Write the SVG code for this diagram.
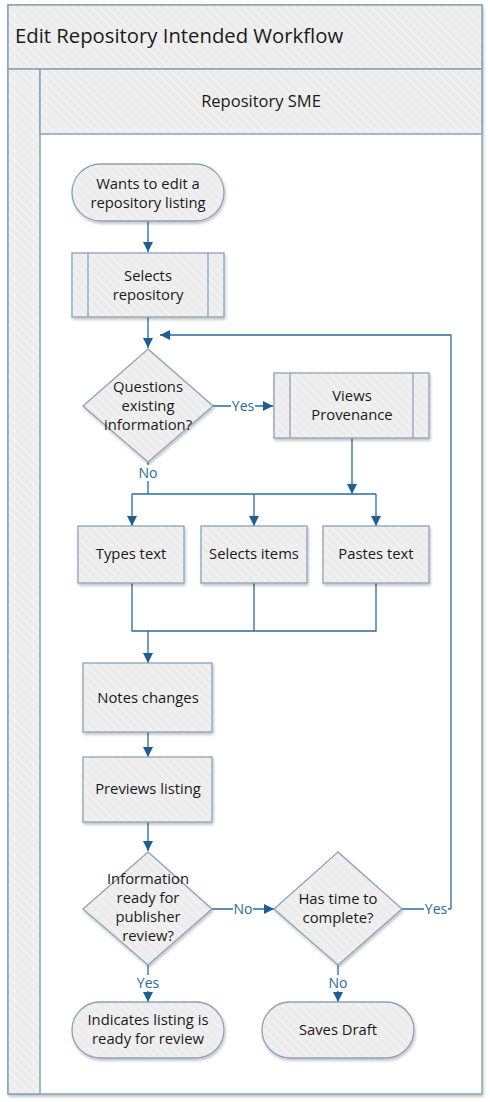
<svg xmlns="http://www.w3.org/2000/svg" width="490" height="1102" viewBox="0 0 490 1102">
<defs>
<pattern id="hatch" width="6" height="6" patternUnits="userSpaceOnUse" patternTransform="rotate(45)">
<rect width="6" height="6" fill="#ececec"/>
<rect width="6" height="2" fill="#f1f1f1"/>
</pattern>
<filter id="sh" x="-10%" y="-10%" width="130%" height="130%">
<feGaussianBlur in="SourceAlpha" stdDeviation="1.5"/>
<feOffset dx="1" dy="2" result="b"/>
<feComponentTransfer><feFuncA type="linear" slope="0.25"/></feComponentTransfer>
<feMerge><feMergeNode/><feMergeNode in="SourceGraphic"/></feMerge>
</filter>
<marker id="arr" viewBox="0 0 10 10" refX="10" refY="5" markerWidth="10" markerHeight="10" markerUnits="userSpaceOnUse" orient="auto">
<path d="M0,0 L10,5 L0,10 Z" fill="#1d5f94"/>
</marker>
</defs>
<style>
.node{fill:url(#hatch);stroke:#8aa3b8;stroke-width:1.3;filter:url(#sh)}
.inner{fill:none;stroke:#8aa3b8;stroke-width:1.3}
.t{font-family:"Open Sans","Noto Sans",sans-serif;font-size:14.8px;fill:#1a1a1a;text-anchor:middle}
.c{fill:none;stroke:#2a6b9c;stroke-width:1.3}
.ca{fill:none;stroke:#2a6b9c;stroke-width:1.3;marker-end:url(#arr)}
.lbl{font-family:"Open Sans","Noto Sans",sans-serif;font-size:14px;fill:#2a6b9c;text-anchor:middle}
.lblbg{fill:#ffffff}
</style>
<rect width="490" height="1102" fill="#ffffff"/>
<g id="pool">
<rect x="8" y="5" width="474" height="1089" fill="#ffffff" stroke="#8aa3b8" stroke-width="1.5" filter="url(#sh)"/>
<rect x="8" y="5" width="474" height="64" fill="url(#hatch)" stroke="#8aa3b8" stroke-width="1.5"/>
<text x="15" y="43" font-family="Open Sans, Noto Sans, sans-serif" font-size="20.3" fill="#1a1a1a">Edit Repository Intended Workflow</text>
<rect x="8" y="69" width="32" height="1025" fill="url(#hatch)" stroke="#8aa3b8" stroke-width="1.5"/>
</g>
<g id="lane">
<rect x="40" y="69" width="442" height="65" fill="url(#hatch)" stroke="#8aa3b8" stroke-width="1.5"/>
<text x="261" y="107" font-family="Open Sans, Noto Sans, sans-serif" font-size="16.5" fill="#1a1a1a" text-anchor="middle">Repository SME</text>
</g>
<g id="connectors">
<path class="ca" d="M148,221 V252"/>
<path class="ca" d="M148,317 V348"/>
<path class="ca" d="M451,909 V335 H160"/>
<path class="c" d="M402,909 H451"/>
<path class="ca" d="M213,406 H273"/>
<path class="c" d="M148,462 V494"/>
<path class="ca" d="M352,438 V494"/>
<path class="c" d="M132,494 H376"/>
<path class="ca" d="M132,494 V526"/>
<path class="ca" d="M254,494 V526"/>
<path class="ca" d="M376,494 V526"/>
<path class="c" d="M132,583 V631 H376 V583"/>
<path class="c" d="M254,583 V631"/>
<path class="ca" d="M148,631 V663"/>
<path class="ca" d="M148,732 V757"/>
<path class="ca" d="M148,822 V851"/>
<path class="ca" d="M212,909 H274"/>
<path class="ca" d="M148,965 V1002"/>
<path class="ca" d="M338,965 V1002"/>
<rect class="lblbg" x="231" y="398" width="24" height="16"/>
<text class="lbl" x="243" y="411">Yes</text>
<rect class="lblbg" x="138" y="465" width="20" height="16"/>
<text class="lbl" x="148" y="478">No</text>
<rect class="lblbg" x="233" y="901" width="20" height="16"/>
<text class="lbl" x="243" y="914">No</text>
<rect class="lblbg" x="424" y="901" width="24" height="16"/>
<text class="lbl" x="436" y="914">Yes</text>
<rect class="lblbg" x="136" y="975" width="24" height="16"/>
<text class="lbl" x="148" y="988">Yes</text>
<rect class="lblbg" x="328" y="975" width="20" height="16"/>
<text class="lbl" x="338" y="988">No</text>
</g>
<g id="start">
<rect class="node" x="72" y="164" width="152" height="57" rx="28.5"/>
<text class="t" x="148" y="189">Wants to edit a</text>
<text class="t" x="148" y="208">repository listing</text>
</g>
<g id="selects-repository">
<rect class="node" x="72" y="253" width="152" height="64"/>
<path class="inner" d="M88,253 V317 M208,253 V317"/>
<text class="t" x="148" y="281">Selects</text>
<text class="t" x="148" y="300">repository</text>
</g>
<g id="questions">
<path class="node" d="M148,349 L213,406 L148,462 L83,406 Z"/>
<text class="t" x="148" y="392">Questions</text>
<text class="t" x="148" y="411">existing</text>
<text class="t" x="148" y="430">information?</text>
</g>
<g id="views-provenance">
<rect class="node" x="274" y="373" width="155" height="65"/>
<path class="inner" d="M290,373 V438 M413,373 V438"/>
<text class="t" x="352" y="401">Views</text>
<text class="t" x="352" y="420">Provenance</text>
</g>
<g id="types-text">
<rect class="node" x="78" y="526" width="106" height="57"/>
<text class="t" x="131" y="559">Types text</text>
</g>
<g id="selects-items">
<rect class="node" x="201" y="526" width="106" height="57"/>
<text class="t" x="254" y="559">Selects items</text>
</g>
<g id="pastes-text">
<rect class="node" x="323" y="526" width="106" height="57"/>
<text class="t" x="376" y="559">Pastes text</text>
</g>
<g id="notes-changes">
<rect class="node" x="83" y="663" width="129" height="69"/>
<text class="t" x="148" y="703">Notes changes</text>
</g>
<g id="previews-listing">
<rect class="node" x="83" y="757" width="129" height="65"/>
<text class="t" x="148" y="794">Previews listing</text>
</g>
<g id="information-ready">
<path class="node" d="M148,852 L212,909 L148,965 L83,909 Z"/>
<text class="t" x="148" y="884">Information</text>
<text class="t" x="148" y="903">ready for</text>
<text class="t" x="148" y="922">publisher</text>
<text class="t" x="148" y="941">review?</text>
</g>
<g id="has-time">
<path class="node" d="M338,852 L402,909 L338,965 L274,909 Z"/>
<text class="t" x="338" y="904">Has time to</text>
<text class="t" x="338" y="923">complete?</text>
</g>
<g id="indicates-listing">
<rect class="node" x="72" y="1002" width="152" height="56" rx="28"/>
<text class="t" x="148" y="1025">Indicates listing is</text>
<text class="t" x="148" y="1044">ready for review</text>
</g>
<g id="saves-draft">
<rect class="node" x="262" y="1002" width="152" height="56" rx="28"/>
<text class="t" x="338" y="1035">Saves Draft</text>
</g>
</svg>
